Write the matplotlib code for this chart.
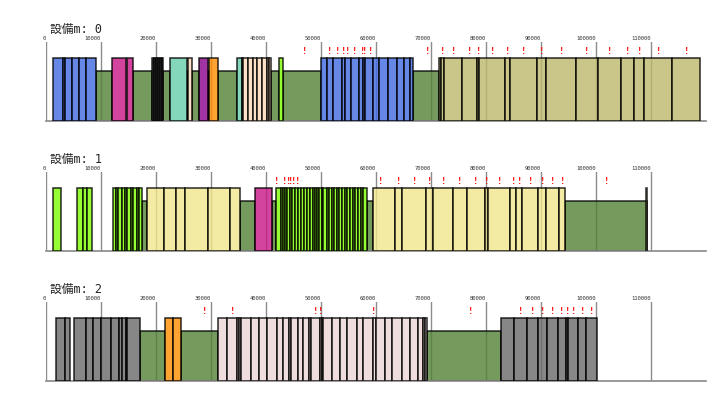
import matplotlib
matplotlib.use("Agg")
import matplotlib.pyplot as plt
import numpy as np

# ---------------- data ----------------
titles = ["設備m: 0", "設備m: 1", "設備m: 2"]
x_ticks = list(range(0, 110001, 10000))
x_max = 120000

# machine 0 job groups: (colour key, boundaries of consecutive jobs)
m0_groups = [
    ("blue", [1270, 3090, 3580, 4850, 6000, 7330, 9150]),
    ("magenta", [12060, 14600]),
    ("magenta", [14720, 15940]),
    ("black", [19390, 19760, 20120, 20480, 20790, 21090, 21270]),
    ("teal", [22600, 25630]),
    ("peach", [25820, 26540]),
    ("purple", [27820, 29570]),
    ("orange", [29750, 31390]),
    ("teal", [34850, 35640]),
    ("peach", [35760, 35940, 36850, 37640, 38480, 39390, 40180, 40550, 40910]),
    ("lime", [42480, 43090]),
    ("blue", [50000, 51090, 52300, 53820, 54420, 55450, 57030, 57750, 58060,
              59570, 60660, 62300, 63810, 65150, 66240, 66720]),
    ("olive", [71450, 71820, 72420, 75640, 78360, 78790, 83510, 84420, 89390,
               90970, 96360, 100360, 104540, 106970, 108780, 113930, 118960]),
]
m0_idle_starts = [9150, 15940, 21270, 25630, 26540, 29570, 31390, 35640, 40910, 43090, 66720]
m0_idle_ends = [12060, 19390, 22600, 25820, 27820, 29750, 34850, 35760, 42480, 50000, 71450]
m0_alerts = [47150, 51695, 53090, 54120, 54850, 56240, 57570, 57940, 59090, 69400,
             72120, 74120, 77030, 78660, 81270, 84000, 86970, 90180, 93820, 98360,
             102480, 105750, 107930, 111390, 116540]

m1_groups = [
    ("lime", [1270, 2730]),
    ("lime", [5640, 6730, 7450, 8360]),
    ("lime", [12300, 12790, 13210, 13820, 14420, 14850, 15450, 15940, 16540, 16970, 17450]),
    ("khaki", [18480, 21510, 23690, 25390, 29570, 33510, 35330]),
    ("magenta", [38060, 41090]),
    ("lime", [41880, 42725, 43090, 43510, 43820, 44420, 44725, 45330, 45940, 46360,
              46970, 47575, 48060, 48545, 48970, 49390, 49755, 50180, 50480, 51210,
              51570, 51995, 52420, 52905, 53390, 53815, 54420, 54845, 55330, 55815,
              56240, 56845, 57270, 57755, 58360]),
    ("khaki", [59450, 63450, 64800, 69090, 70480, 74000, 76540, 79880, 80480, 84420,
               85450, 86660, 89570, 90900, 93330, 94420]),
    ("khaki", [109230, 109290]),
]
m1_idle_starts = [17450, 35330, 41090, 58360, 94420]
m1_idle_ends = [18480, 38060, 41880, 59450, 109260]
m1_alerts = [42060, 43390, 44115, 44600, 45150, 45750, 60970, 64240, 67030, 69880,
             72300, 75330, 78240, 80180, 82480, 85030, 86240, 88180, 90300, 92180,
             93990, 102000]

m2_groups = [
    ("gray", [1880, 3450, 4420]),
    ("gray", [5210, 7270, 8670, 10000, 11880, 13330, 13820, 14600, 14850, 17150]),
    ("orange", [21755, 23210, 24540]),
    ("pink", [31400, 33030, 34730, 35150, 35455, 37270, 38790, 40180, 42000, 43210,
              44240, 44545, 45820, 46725, 47940, 48180, 49880, 50180, 50485, 52060,
              53515, 54725, 56545, 57755, 59575, 60000, 61695, 62910, 64725, 66240,
              67755, 68545, 68970, 69270]),
    ("gray", [82790, 85210, 87570, 89570, 91090, 93210, 94540, 95030, 96850, 98240, 100180]),
]
m2_idle_starts = [17150, 24540, 69270]
m2_idle_ends = [21755, 31400, 82790]
m2_alerts = [28850, 33940, 49030, 50000, 59700, 77270, 86420, 88540, 90360, 92180,
             93880, 94900, 95940, 97630, 99270]

# ---------------- style ----------------
palette = {
    "blue": "royalblue", "magenta": "mediumvioletred", "black": "#3a3a3a",
    "teal": "mediumaquamarine", "peach": "peachpuff", "purple": "darkmagenta",
    "orange": "darkorange", "lime": "lawngreen", "olive": "darkkhaki",
    "khaki": "khaki", "gray": "dimgray", "pink": "#ecd4d4",
}
idle_color = "#528136"
mono = ["DejaVu Sans Mono", "Noto Sans CJK JP"]

fig = plt.figure(figsize=(7.18, 4.06), dpi=100)
W, H = 718.0, 406.0
ax_left = 45.67 / W
ax_width = (705.7 - 45.67) / W
ax_h = 78.4 / H
bottoms_px = [121.7, 251.7, 381.7]
title_y_px = [29.5, 159.5, 289.5]

machines = [
    (m0_groups, m0_idle_starts, m0_idle_ends, m0_alerts),
    (m1_groups, m1_idle_starts, m1_idle_ends, m1_alerts),
    (m2_groups, m2_idle_starts, m2_idle_ends, m2_alerts),
]

for i, (groups, istarts, iends, alerts) in enumerate(machines):
    ax = fig.add_axes([ax_left, 1 - bottoms_px[i] / H, ax_width, ax_h])
    ax.set_xlim(0, x_max)
    ax.set_ylim(0, 1.25)
    ax.set_axisbelow(True)

    # idle periods
    ax.bar(istarts, 0.8, width=np.array(iends) - np.array(istarts), align="edge",
           color=idle_color, edgecolor="black", linewidth=1.15, alpha=0.8, zorder=2)
    # jobs
    for key, edges in groups:
        e = np.array(edges)
        ax.bar(e[:-1], 1.0, width=np.diff(e), align="edge", color=palette[key],
               edgecolor="black", linewidth=1.15, alpha=0.8, zorder=3)
    # alerts
    for a in alerts:
        ax.text(a, 1.115, "!", color="red", fontsize=6.5, fontweight="bold",
                ha="center", va="center", family=mono, zorder=4)

    ax.set_xticks(x_ticks)
    ax.set_xticklabels([str(t) for t in x_ticks], family=mono, fontsize=4, color="#333333",
                       ha="right")
    ax.xaxis.tick_top()
    ax.tick_params(axis="x", length=0, pad=1.5)
    ax.set_yticks([])
    ax.grid(axis="x", color="#8c8c8c", linewidth=1.0)
    for s in ["left", "right", "top"]:
        ax.spines[s].set_visible(False)
    ax.spines["bottom"].set_color("#888888")
    ax.spines["bottom"].set_linewidth(1.2)

    fig.text(50 / W, 1 - title_y_px[i] / H, titles[i], family=mono, fontsize=8.5,
             ha="left", va="center", color="#222222")

fig.savefig("out.png", dpi=100)
